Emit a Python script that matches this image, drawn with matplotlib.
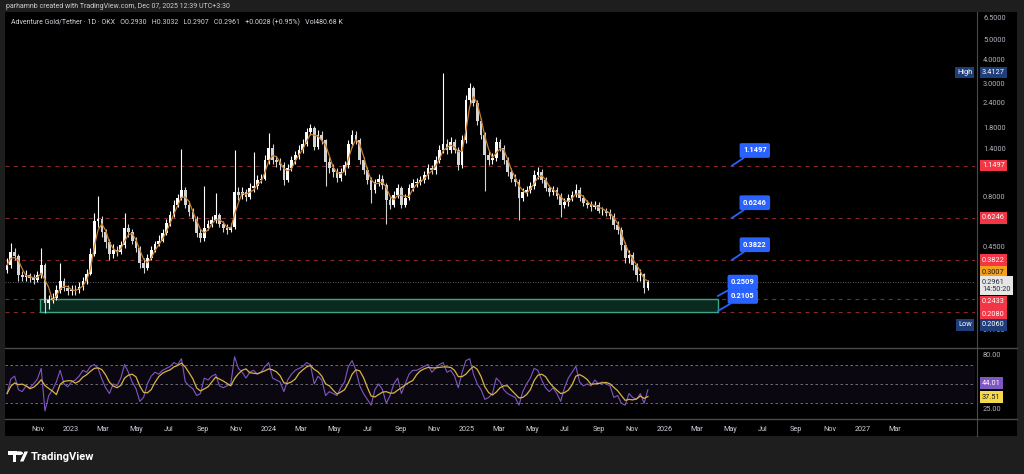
import matplotlib.pyplot as plt
import matplotlib.transforms as mtransforms
from matplotlib.patches import Rectangle, Polygon, Circle
from matplotlib.lines import Line2D
import pandas as pd
import numpy as np

plt.rcParams['font.family'] = ['Roboto', 'DejaVu Sans']

#%% Data (weekly candles)
first_open = 0.34
closes = [0.36, 0.42, 0.40, 0.32, 0.315, 0.32, 0.31, 0.303, 0.32, 0.36,
          0.23, 0.24, 0.245, 0.27, 0.30, 0.275, 0.265, 0.27, 0.268, 0.28,
          0.30, 0.325, 0.41, 0.60, 0.62, 0.53, 0.47, 0.41, 0.43, 0.42,
          0.455, 0.555, 0.53, 0.48, 0.44, 0.37, 0.35, 0.39, 0.43, 0.46,
          0.48, 0.525, 0.59, 0.645, 0.73, 0.79, 0.87, 0.73, 0.67, 0.62,
          0.525, 0.495, 0.555, 0.58, 0.61, 0.645, 0.58, 0.555, 0.545, 0.565,
          0.845, 0.82, 0.845, 0.80, 0.89, 0.905, 0.975, 0.99, 1.23, 1.42,
          1.23, 1.20, 1.16, 0.975, 1.12, 1.23, 1.30, 1.39, 1.49, 1.71,
          1.79, 1.43, 1.65, 1.55, 1.20, 1.12, 1.07, 1.00, 1.07, 1.16,
          1.49, 1.65, 1.55, 1.23, 1.09, 0.975, 0.87, 0.95, 0.99, 0.915,
          0.77, 0.73, 0.82, 0.89, 0.73, 0.79, 0.89, 0.94, 0.95, 0.975,
          1.03, 1.12, 1.09, 1.23, 1.39, 1.49, 1.39, 1.51, 1.39, 1.16,
          1.55, 2.48, 2.85, 2.40, 1.93, 1.65, 1.30, 1.23, 1.26, 1.52,
          1.42, 1.23, 1.07, 0.99, 0.95, 0.79, 0.845, 0.87, 0.905, 1.03,
          1.07, 0.975, 0.89, 0.845, 0.87, 0.81, 0.73, 0.75, 0.79, 0.82,
          0.87, 0.79, 0.745, 0.73, 0.71, 0.73, 0.68, 0.68, 0.665, 0.64,
          0.575, 0.545, 0.455, 0.39, 0.405, 0.36, 0.32, 0.325, 0.275, 0.2961]
highs = [0.39, 0.467, 0.44, 0.41, 0.335, 0.34, 0.33, 0.325, 0.335, 0.44,
         0.37, 0.255, 0.26, 0.285, 0.37, 0.31, 0.285, 0.285, 0.285, 0.295,
         0.315, 0.345, 0.44, 0.66, 0.81, 0.64, 0.55, 0.49, 0.46, 0.45,
         0.48, 0.66, 0.58, 0.55, 0.50, 0.45, 0.39, 0.41, 0.45, 0.48,
         0.51, 0.55, 0.62, 0.68, 0.77, 0.83, 1.40, 0.90, 0.76, 0.70,
         0.64, 0.55, 0.91, 0.61, 0.64, 0.84, 0.66, 0.60, 0.58, 0.59,
         1.39, 0.90, 0.90, 0.88, 0.94, 1.35, 1.03, 1.05, 1.30, 1.68,
         1.48, 1.29, 1.26, 1.20, 1.17, 1.29, 1.37, 1.46, 1.57, 1.79,
         1.88, 1.84, 1.74, 1.72, 1.58, 1.27, 1.17, 1.12, 1.12, 1.22,
         1.56, 1.74, 1.72, 1.59, 1.28, 1.13, 1.01, 0.99, 1.04, 1.03,
         0.94, 0.80, 0.86, 0.93, 0.91, 0.83, 0.93, 0.98, 1.00, 1.02,
         1.08, 1.17, 1.16, 1.29, 1.46, 3.4127, 1.57, 1.60, 1.58, 1.44,
         1.64, 2.62, 3.02, 2.92, 2.48, 2.00, 1.70, 1.37, 1.33, 1.60,
         1.58, 1.47, 1.28, 1.12, 1.04, 0.98, 0.89, 0.91, 0.95, 1.09,
         1.13, 1.11, 1.01, 0.92, 0.91, 0.90, 0.84, 0.79, 0.83, 0.86,
         0.93, 0.90, 0.82, 0.77, 0.76, 0.76, 0.75, 0.71, 0.70, 0.69,
         0.66, 0.60, 0.56, 0.47, 0.43, 0.42, 0.37, 0.345, 0.33, 0.3032]
lows = [0.33, 0.35, 0.38, 0.30, 0.30, 0.30, 0.295, 0.29, 0.295, 0.31,
        0.206, 0.215, 0.23, 0.24, 0.26, 0.265, 0.255, 0.255, 0.255, 0.26,
        0.27, 0.29, 0.32, 0.40, 0.56, 0.50, 0.44, 0.38, 0.39, 0.40,
        0.41, 0.44, 0.50, 0.46, 0.42, 0.35, 0.33, 0.34, 0.38, 0.42,
        0.45, 0.47, 0.51, 0.57, 0.63, 0.71, 0.77, 0.70, 0.64, 0.60,
        0.50, 0.47, 0.48, 0.54, 0.56, 0.59, 0.56, 0.53, 0.52, 0.53,
        0.55, 0.77, 0.78, 0.76, 0.78, 0.85, 0.88, 0.94, 0.97, 1.18,
        1.17, 1.13, 1.10, 0.92, 0.95, 1.08, 1.18, 1.25, 1.34, 1.45,
        1.64, 1.38, 1.40, 1.48, 0.91, 1.06, 1.01, 0.95, 0.96, 1.03,
        1.12, 1.44, 1.48, 1.18, 1.04, 0.93, 0.74, 0.84, 0.91, 0.88,
        0.58, 0.69, 0.71, 0.79, 0.70, 0.71, 0.77, 0.86, 0.90, 0.92,
        0.94, 0.99, 1.04, 1.05, 1.19, 1.33, 1.32, 1.34, 1.33, 1.10,
        1.12, 1.50, 2.38, 2.30, 1.85, 1.58, 0.86, 1.16, 1.18, 1.22,
        1.36, 1.18, 1.02, 0.95, 0.91, 0.61, 0.76, 0.81, 0.84, 0.88,
        0.99, 0.94, 0.86, 0.81, 0.82, 0.78, 0.63, 0.70, 0.72, 0.76,
        0.80, 0.76, 0.72, 0.70, 0.68, 0.69, 0.66, 0.65, 0.64, 0.62,
        0.55, 0.52, 0.43, 0.37, 0.37, 0.34, 0.30, 0.30, 0.26, 0.27]
rsi = [40, 55, 58, 44, 42, 48, 46, 50, 55, 66,
       22, 38, 44, 52, 64, 50, 47, 52, 54, 58,
       64, 62, 68, 70, 66, 55, 46, 40, 50, 48,
       56, 70, 62, 52, 45, 32, 36, 50, 58, 62,
       60, 64, 66, 68, 72, 70, 76, 52, 48, 45,
       38, 40, 56, 54, 58, 60, 48, 46, 48, 50,
       78, 66, 62, 56, 62, 64, 60, 62, 68, 72,
       56, 54, 52, 42, 54, 60, 64, 66, 68, 72,
       70, 50, 58, 54, 38, 42, 40, 38, 46, 52,
       68, 74, 64, 48, 40, 34, 28, 44, 50, 44,
       30, 38, 50, 56, 40, 50, 60, 64, 64, 66,
       68, 70, 62, 66, 70, 72, 62, 64, 58, 46,
       62, 74, 76, 60, 50, 44, 34, 36, 40, 56,
       52, 44, 40, 38, 36, 28, 42, 50, 56, 66,
       64, 54, 46, 42, 46, 40, 32, 46, 56, 62,
       68, 52, 48, 50, 48, 54, 50, 52, 50, 48,
       36, 38, 30, 28, 40, 36, 34, 40, 30, 44.01]

# horizontal levels and annotations
red_levels = [1.1497, 0.6246, 0.3822, 0.2433, 0.2080]
box_top, box_bottom = 0.2433, 0.2080
box_start, box_end = '2022-11-04', '2026-04-09'
callouts_top = ['1.1497', '0.6246', '0.3822']
callouts_box = ['0.2509', '0.2105']
price_ticks = [6.5, 5, 4, 3, 2.4, 1.8, 1.4, 0.8, 0.45, 0.17]
high_val, low_val, last_close, ma_val = 3.4127, 0.2060, 0.2961, 0.3007
rsi_last, rsi_ma_last = '44.01', '37.51'

#%% Prepare
ref = pd.Timestamp('2023-01-01')
def day(d):
    return (pd.Timestamp(d) - ref).days

dates = pd.date_range('2022-09-05', periods=len(closes), freq='7D')
x = np.array([(d - ref).days for d in dates])
opens = [first_open] + closes[:-1]
ma = pd.Series(closes).rolling(3, min_periods=1).mean()
rsi_ma = pd.Series(rsi).rolling(4, min_periods=1).mean()
xlim = (-121.8, 1668.8)

W, H = 1024, 474
def fx(p): return p / W
def fy(p): return 1 - p / H

fig = plt.figure(figsize=(10.24, 4.74), dpi=100, facecolor='#1e1e1e')

# black chart backdrop
bg = fig.add_axes([fx(5), fy(436), fx(1017) - fx(5), (436 - 12) / H])
bg.set_facecolor('black'); bg.set_xticks([]); bg.set_yticks([])
for s in bg.spines.values():
    s.set_visible(False)

ax = fig.add_axes([fx(5), fy(346), 970 / W, 334 / H])
ax2 = fig.add_axes([fx(5), fy(418), 970 / W, 69 / H])
for a in (ax, ax2):
    a.set_facecolor('black')
    for s in a.spines.values():
        s.set_visible(False)
    a.set_xlim(*xlim)

#%% Price pane
ax.set_yscale('log')
ax.set_ylim(0.1399, 6.935)
for lv in red_levels:
    ax.axhline(lv, color='#852830', lw=0.8, ls=(0, (3.5, 4)))
ax.axhline(last_close, color='#7d8089', lw=0.6, ls=(0, (1, 2)))
ax.add_patch(Rectangle((day(box_start), box_bottom), day(box_end) - day(box_start),
                       box_top - box_bottom, fc='#0a2a1f', ec='#3aa888', lw=1.0, zorder=2))

up = [c >= o for o, c in zip(opens, closes)]
cols = ['#ffffff' if u else '#d4d4d4' for u in up]
ax.vlines(x, lows, highs, colors=cols, lw=0.8, zorder=3)
bottoms = [min(o, c) for o, c in zip(opens, closes)]
heights = [abs(c - o) for o, c in zip(opens, closes)]
ax.bar(x, heights, bottom=bottoms, width=5.0, color=cols, lw=0, zorder=4)
ax.plot(x, ma, color='#c97d2a', lw=0.9, zorder=5)

ax.yaxis.tick_right()
ax.set_yticks(price_ticks)
ax.set_yticklabels([f'{v:.4f}' for v in price_ticks])
ax.yaxis.set_minor_locator(plt.NullLocator())
ax.tick_params(axis='y', length=0, pad=5.8, labelsize=5.3, labelcolor='#b2b5be')
ax.set_xticks([])

def tag(axis, val, txt, fc, tc, dy=0.0, dx=5.0, ha='left'):
    t = mtransforms.blended_transform_factory(axis.transAxes, axis.transData)
    axis.annotate(txt, xy=(1, val), xycoords=t, xytext=(dx, dy), textcoords='offset points',
                  ha=ha, va='center', fontsize=5.3, color=tc, linespacing=1.1,
                  bbox=dict(boxstyle='square,pad=0.3', fc=fc, ec='none'),
                  annotation_clip=False, zorder=10)

tag(ax, high_val, f'{high_val:.4f}', '#1f3d78', 'white')
tag(ax, high_val, 'High', '#1f3d78', 'white', dx=-2, ha='right')
for lv in red_levels[:3]:
    tag(ax, lv, f'{lv:.4f}', '#f23645', 'white')
tag(ax, ma_val, f'{ma_val:.4f}', '#f5a01a', '#1a1a1a', dy=6.1)
tag(ax, last_close, f'{last_close:.4f}\n14:50:20', '#e6e6e6', '#2a2e39', dy=-2.9)
tag(ax, red_levels[3], f'{red_levels[3]:.4f}', '#f23645', 'white', dy=-2.4)
tag(ax, red_levels[4], f'{red_levels[4]:.4f}', '#f23645', 'white', dy=-1.4)
tag(ax, low_val, f'{low_val:.4f}', '#1f3d78', 'white', dy=-8.6)
tag(ax, low_val, 'Low', '#1f3d78', 'white', dy=-8.6, dx=-2, ha='right')

# blue callouts
def callout(txt, xd, yv, dx, dy):
    ax.annotate(txt, xy=(xd, yv), xytext=(dx, dy), textcoords='offset points',
                ha='center', va='center', fontsize=5.4, fontweight='bold', color='white',
                bbox=dict(boxstyle='round,pad=0.45,rounding_size=0.25', fc='#2962ff', ec='none'),
                arrowprops=dict(arrowstyle='-', color='#2962ff', lw=1.3, shrinkA=0, shrinkB=0),
                zorder=8)

for t in callouts_top:
    callout(t, day('2026-05-05'), float(t), 16.5, 11.0)
callout(callouts_box[0], day(box_end), float(callouts_box[0]), 18.0, 10.0)
callout(callouts_box[1], day(box_end), float(callouts_box[1]), 18.0, 10.5)

ax.text(fx(11), fy(22), 'Adventure Gold/Tether · 1D · OKX   O0.2930   H0.3032   L0.2907   C0.2961   +0.0028 (+0.95%)   Vol480.68 K',
        transform=fig.transFigure, fontsize=5, color='#d1d4dc', va='center')

#%% RSI pane
ax2.set_ylim(14.8, 86)
ax2.axhspan(30, 70, color='#7e57c2', alpha=0.09, lw=0)
for lv in (70, 50, 30):
    ax2.axhline(lv, color='#787b86', lw=0.6, ls=(0, (3, 3)))
ax2.plot(x, rsi, color='#7e57c2', lw=0.8)
ax2.plot(x, rsi_ma, color='#d9b340', lw=0.9)
ax2.yaxis.tick_right()
ax2.set_yticks([80, 25])
ax2.set_yticklabels(['80.00', '25.00'])
ax2.tick_params(axis='y', length=0, pad=5.8, labelsize=5.3, labelcolor='#b2b5be')
tag(ax2, rsi[-1], rsi_last, '#7e57c2', 'white', dy=4.8)
tag(ax2, rsi_ma.iloc[-1], rsi_ma_last, '#f5d94a', '#1a1a1a', dy=-0.5)

months = pd.date_range('2022-11-01', '2027-03-01', freq='2MS')
ax2.set_xticks([(m - ref).days for m in months])
ax2.set_xticklabels([str(m.year) if m.month == 1 else m.strftime('%b') for m in months])
ax2.tick_params(axis='x', length=0, pad=6.0, labelsize=5.2, labelcolor='#d1d4dc')

# pane separators and price scale border
for yy in (347.5, 419):
    fig.add_artist(Line2D([fx(5), fx(1017)], [fy(yy)] * 2, color='#4a4a4a', lw=1.0))
fig.add_artist(Line2D([fx(977), fx(977)], [fy(12), fy(436)], color='#4a4a4a', lw=0.8))

#%% Header and footer
fig.text(fx(6), fy(6.5), 'parhamnb created with TradingView.com, Dec 07, 2025 12:39 UTC+3:30',
         fontsize=5, color='#cfcfcf', va='center')

def P(px, py):
    return (fx(px), fy(py))
fig.add_artist(Rectangle(P(7.5, 454.5), fx(9), 3.5 / H, transform=fig.transFigure, fc='white', ec='none'))
fig.add_artist(Rectangle(P(12.5, 461.5), fx(3.5), 10 / H, transform=fig.transFigure, fc='white', ec='none'))
fig.add_artist(Circle(P(19, 453.2), 1.9 / H, transform=fig.transFigure, fc='white', ec='none'))
fig.add_artist(Polygon([P(20, 461.5), P(24.5, 451.5), P(28, 451.5), P(23.5, 461.5)],
                       closed=True, transform=fig.transFigure, fc='white', ec='none'))
fig.text(fx(31), fy(456.5), 'TradingView', fontsize=8, fontweight='bold', color='white', va='center')

fig.savefig('out.png', dpi=100, facecolor=fig.get_facecolor())
